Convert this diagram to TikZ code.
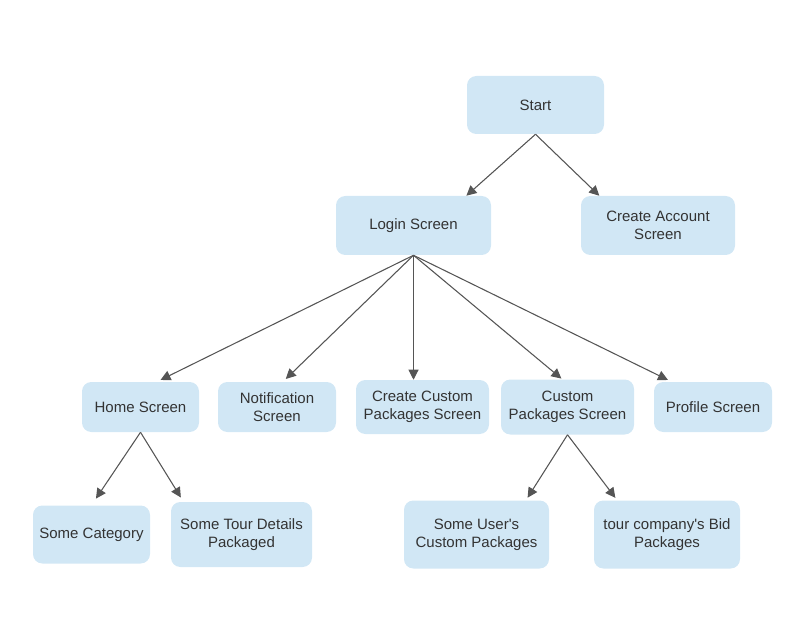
\documentclass[tikz,border=0pt]{standalone}
\usepackage{fontspec}
\setmainfont{Liberation Sans}[Ligatures=TeXOff]
\usetikzlibrary{arrows.meta,calc}
\definecolor{boxblue}{HTML}{D1E7F5}
\definecolor{txtgray}{HTML}{333333}
\definecolor{linegray}{HTML}{555555}
\begin{document}
\begin{tikzpicture}[x=0.75pt, y=-0.75pt,
  screen/.style={fill=boxblue, rounded corners=7pt, text=txtgray, align=center,
    inner sep=0pt, font=\fontsize{11.25}{13.3}\selectfont},
  flow/.style={draw=linegray, line width=0.8pt,
    -{Triangle[length=7.5pt,width=7.5pt]}}]

  \newcommand\Px{0.75pt}

  \useasboundingbox (0,0) rectangle (812,634);

  % top
  \node[screen, minimum width=137*\Px, minimum height=58*\Px] (start) at (535.5,105) {Start};
  \node[screen, minimum width=155*\Px, minimum height=59*\Px] (login) at (413.5,225.5) {Login Screen};
  \node[screen, minimum width=154*\Px, minimum height=59*\Px] (account) at (658,225.5) {Create Account\\Screen};

  % screens
  \node[screen, minimum width=117*\Px, minimum height=50*\Px] (home) at (140.5,407) {Home Screen};
  \node[screen, minimum width=118*\Px, minimum height=50*\Px] (notify) at (277,407) {Notification\\Screen};
  \node[screen, minimum width=133*\Px, minimum height=54*\Px] (createpk) at (422.5,407) {Create Custom\\Packages Screen};
  \node[screen, minimum width=133*\Px, minimum height=55*\Px] (custompk) at (567.5,407) {Custom\\Packages Screen};
  \node[screen, minimum width=118*\Px, minimum height=50*\Px] (profile) at (713,407) {Profile Screen};

  % bottom
  \node[screen, minimum width=117*\Px, minimum height=58*\Px] (category) at (91.5,534.5) {Some Category};
  \node[screen, minimum width=141*\Px, minimum height=65*\Px] (tour) at (241.5,534.5) {Some Tour Details\\Packaged};
  \node[screen, minimum width=145*\Px, minimum height=68*\Px] (userpk) at (476.5,534.5) {Some User's\\Custom Packages};
  \node[screen, minimum width=146*\Px, minimum height=68*\Px] (bidpk) at (667,534.5) {tour company's Bid\\Packages};

  \draw[flow] (start.south) -- ($(login.north west)!0.84!(login.north east)$);
  \draw[flow] (start.south) -- ($(account.north west)!0.12!(account.north east)$);

  \draw[flow, shorten >=4*\Px] (login.south) -- ($(home.north west)!0.64!(home.north east)$);
  \draw[flow, shorten >=4*\Px] (login.south) -- ($(notify.north west)!0.55!(notify.north east)$);
  \draw[flow] (login.south) -- (createpk.north -| login.south);
  \draw[flow, shorten >=1*\Px] (login.south) -- ($(custompk.north west)!0.46!(custompk.north east)$);
  \draw[flow, shorten >=4*\Px] (login.south) -- ($(profile.north west)!0.15!(profile.north east)$);

  \draw[flow, shorten >=8*\Px] (home.south) -- ($(category.north west)!0.5!(category.north east)$);
  \draw[flow, shorten >=5*\Px] (home.south) -- ($(tour.north west)!0.09!(tour.north east)$);

  \draw[flow, shorten >=3*\Px] (custompk.south) -- ($(userpk.north west)!0.84!(userpk.north east)$);
  \draw[flow, shorten >=3*\Px] (custompk.south) -- ($(bidpk.north west)!0.16!(bidpk.north east)$);

\end{tikzpicture}
\end{document}
